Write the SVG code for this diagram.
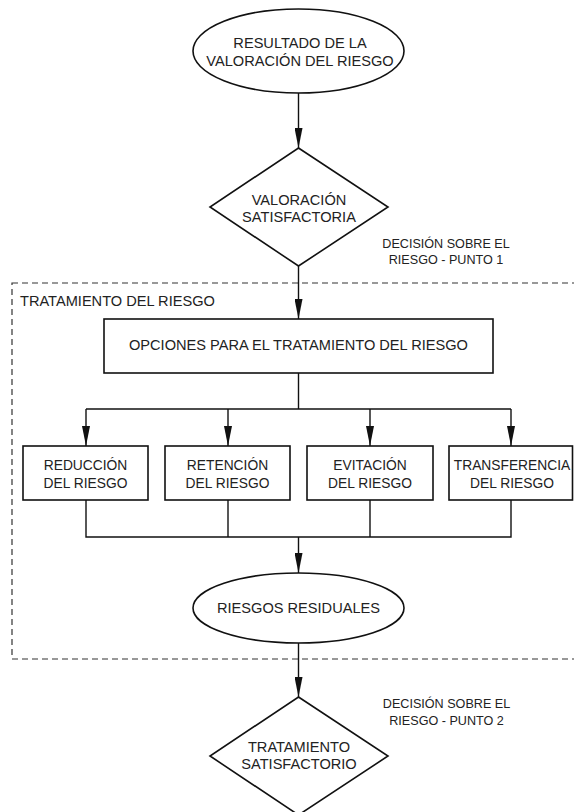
<svg xmlns="http://www.w3.org/2000/svg" width="574" height="812" viewBox="0 0 574 812">
<style>
.shape{fill:#fff;stroke:#111;stroke-width:1.6}
.conn{fill:none;stroke:#111;stroke-width:1.4}
.t{font-family:"Liberation Sans",Arial,sans-serif;font-size:14.6px;fill:#222;text-anchor:middle}
.s{font-size:13.8px}
.d{font-size:12.6px}
.l{text-anchor:start}
</style>
<defs>
<marker id="arr" markerUnits="userSpaceOnUse" markerWidth="20" markerHeight="8" refX="20" refY="4" orient="auto">
<path d="M0,0 L20,4 L0,8 z" fill="#111"/>
</marker>
</defs>
<rect width="574" height="812" fill="#fff"/>
<g id="group-tratamiento">
<rect x="12" y="283" width="570" height="376" fill="none" stroke="#333" stroke-width="1.2" stroke-dasharray="6,4"/>
<text class="t l" x="20" y="306">TRATAMIENTO DEL RIESGO</text>
</g>
<g id="connectors">
<line class="conn" x1="298.5" y1="93" x2="298.5" y2="148" marker-end="url(#arr)"/>
<line class="conn" x1="298.5" y1="266" x2="298.5" y2="319" marker-end="url(#arr)"/>
<polyline class="conn" points="298.5,373 298.5,409"/>
<polyline class="conn" points="86,409 511,409"/>
<line class="conn" x1="86" y1="409" x2="86" y2="446" marker-end="url(#arr)"/>
<line class="conn" x1="228" y1="409" x2="228" y2="446" marker-end="url(#arr)"/>
<line class="conn" x1="370" y1="409" x2="370" y2="446" marker-end="url(#arr)"/>
<line class="conn" x1="511" y1="409" x2="511" y2="446" marker-end="url(#arr)"/>
<polyline class="conn" points="86,500 86,537 511,537 511,500"/>
<line class="conn" x1="228" y1="500" x2="228" y2="537"/>
<line class="conn" x1="370" y1="500" x2="370" y2="537"/>
<line class="conn" x1="298.5" y1="537" x2="298.5" y2="573" marker-end="url(#arr)"/>
<line class="conn" x1="298.5" y1="643" x2="298.5" y2="697" marker-end="url(#arr)"/>
</g>
<g id="resultado">
<ellipse class="shape" cx="298.5" cy="51" rx="105.5" ry="42"/>
<text class="t" x="300" y="48">RESULTADO DE LA</text>
<text class="t" x="300" y="66">VALORACIÓN DEL RIESGO</text>
</g>
<g id="valoracion-satisfactoria">
<polygon class="shape" points="298.5,148 388,207 298.5,266 210,207"/>
<text class="t" x="299" y="205">VALORACIÓN</text>
<text class="t" x="299" y="222">SATISFACTORIA</text>
</g>
<g id="decision-1">
<text class="t d" x="446" y="247.5">DECISIÓN SOBRE EL</text>
<text class="t d" x="446" y="263.5">RIESGO - PUNTO 1</text>
</g>
<g id="opciones">
<rect class="shape" x="104" y="319" width="389" height="54"/>
<text class="t" x="298.5" y="350">OPCIONES PARA EL TRATAMIENTO DEL RIESGO</text>
</g>
<g id="reduccion">
<rect class="shape" x="23" y="446" width="125" height="54"/>
<text class="t s" x="85.5" y="470">REDUCCIÓN</text>
<text class="t s" x="85.5" y="488">DEL RIESGO</text>
</g>
<g id="retencion">
<rect class="shape" x="165" y="446" width="125" height="54"/>
<text class="t s" x="227.5" y="470">RETENCIÓN</text>
<text class="t s" x="227.5" y="488">DEL RIESGO</text>
</g>
<g id="evitacion">
<rect class="shape" x="307" y="446" width="126" height="54"/>
<text class="t s" x="370" y="470">EVITACIÓN</text>
<text class="t s" x="370" y="488">DEL RIESGO</text>
</g>
<g id="transferencia">
<rect class="shape" x="449" y="446" width="123.5" height="54"/>
<text class="t s" x="512" y="470">TRANSFERENCIA</text>
<text class="t s" x="512" y="488">DEL RIESGO</text>
</g>
<g id="riesgos-residuales">
<ellipse class="shape" cx="298.5" cy="608" rx="105.5" ry="35"/>
<text class="t" x="298.5" y="613">RIESGOS RESIDUALES</text>
</g>
<g id="decision-2">
<text class="t d" x="446.5" y="707.5">DECISIÓN SOBRE EL</text>
<text class="t d" x="446.5" y="724.5">RIESGO - PUNTO 2</text>
</g>
<g id="tratamiento-satisfactorio">
<polygon class="shape" points="298.5,697 388,756 298.5,815 210,756"/>
<text class="t" x="299" y="752">TRATAMIENTO</text>
<text class="t" x="299" y="769">SATISFACTORIO</text>
</g>
</svg>
